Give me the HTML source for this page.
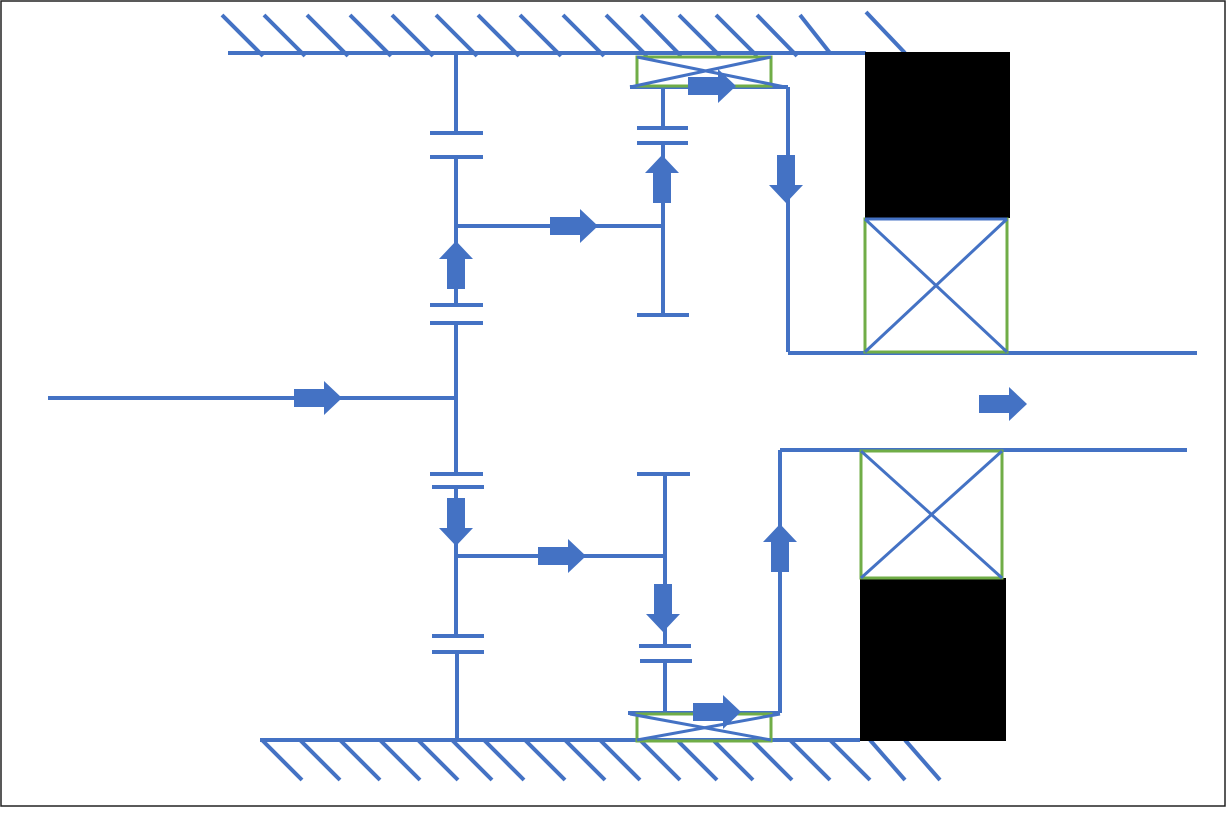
<!DOCTYPE html>
<html><head><style>html,body{margin:0;padding:0;background:#fff}</style></head><body>
<svg width="1227" height="808" viewBox="0 0 1227 808" xmlns="http://www.w3.org/2000/svg">
<defs>
<path id="ar" d="M0,-9 L30,-9 L30,-17 L48,0 L30,17 L30,9 L0,9 Z" fill="#4472C4"/>
</defs>
<rect x="1" y="1" width="1224" height="805" fill="#fff" stroke="#222" stroke-width="1.5"/>
<g stroke="#4472C4" stroke-width="4" fill="none">
<line x1="228" y1="53" x2="866" y2="53"/>
<line x1="222" y1="15" x2="263" y2="56"/><line x1="264" y1="15" x2="305" y2="56"/><line x1="307" y1="15" x2="348" y2="56"/><line x1="350" y1="15" x2="391" y2="56"/><line x1="392" y1="15" x2="433" y2="56"/><line x1="436" y1="15" x2="477" y2="56"/><line x1="478" y1="15" x2="519" y2="56"/><line x1="520" y1="15" x2="561" y2="56"/><line x1="563" y1="15" x2="604" y2="56"/><line x1="606" y1="15" x2="647" y2="56"/><line x1="641" y1="15" x2="681" y2="56"/><line x1="679" y1="15" x2="720" y2="56"/><line x1="716" y1="15" x2="757" y2="56"/><line x1="757" y1="15" x2="797" y2="56"/><line x1="800" y1="15" x2="830" y2="53"/><line x1="866" y1="12" x2="905" y2="53"/>
<line x1="260" y1="740" x2="860" y2="740"/>
<line x1="262" y1="740" x2="302" y2="780"/><line x1="300" y1="740" x2="340" y2="780"/><line x1="340" y1="740" x2="380" y2="780"/><line x1="380" y1="740" x2="420" y2="780"/><line x1="418" y1="740" x2="458" y2="780"/><line x1="452" y1="740" x2="492" y2="780"/><line x1="484" y1="740" x2="524" y2="780"/><line x1="525" y1="740" x2="565" y2="780"/><line x1="565" y1="740" x2="605" y2="780"/><line x1="600" y1="740" x2="640" y2="780"/><line x1="640" y1="740" x2="680" y2="780"/><line x1="677" y1="740" x2="717" y2="780"/><line x1="713" y1="740" x2="753" y2="780"/><line x1="752" y1="740" x2="792" y2="780"/><line x1="790" y1="740" x2="830" y2="780"/><line x1="830" y1="740" x2="870" y2="780"/><line x1="870" y1="740" x2="905" y2="780"/><line x1="905" y1="740" x2="940" y2="780"/>
<line x1="48" y1="398" x2="456" y2="398"/>
<line x1="456" y1="53" x2="456" y2="133"/><line x1="430" y1="133" x2="483" y2="133"/><line x1="430" y1="157" x2="483" y2="157"/>
<line x1="456" y1="157" x2="456" y2="305"/><line x1="430" y1="305" x2="483" y2="305"/><line x1="430" y1="323" x2="483" y2="323"/>
<line x1="456" y1="323" x2="456" y2="474"/><line x1="430" y1="474" x2="483" y2="474"/><line x1="432" y1="487" x2="484" y2="487"/>
<line x1="456" y1="487" x2="456" y2="636"/><line x1="432" y1="636" x2="484" y2="636"/><line x1="432" y1="652" x2="484" y2="652"/>
<line x1="457" y1="652" x2="457" y2="740"/>
<line x1="456" y1="226" x2="663" y2="226"/>
<line x1="663" y1="87" x2="663" y2="128"/><line x1="637" y1="128" x2="688" y2="128"/><line x1="637" y1="143" x2="688" y2="143"/>
<line x1="663" y1="143" x2="663" y2="315"/><line x1="637" y1="315" x2="689" y2="315"/>
<line x1="630" y1="87" x2="788" y2="87"/>
<line x1="788" y1="87" x2="788" y2="352"/>
<line x1="788" y1="353" x2="1197" y2="353"/>
<line x1="456" y1="556" x2="665" y2="556"/>
<line x1="637" y1="474" x2="690" y2="474"/><line x1="665" y1="474" x2="665" y2="646"/>
<line x1="639" y1="646" x2="691" y2="646"/><line x1="640" y1="661" x2="692" y2="661"/>
<line x1="665" y1="661" x2="665" y2="713"/>
<line x1="628" y1="713" x2="780" y2="713"/>
<line x1="780" y1="713" x2="780" y2="450"/>
<line x1="780" y1="450" x2="1187" y2="450"/>
</g>
<rect x="637" y="57" width="134" height="29" fill="none" stroke="#70AD47" stroke-width="3"/>
<g stroke="#4472C4" stroke-width="3"><line x1="630" y1="87" x2="771" y2="57"/><line x1="637" y1="57" x2="785" y2="87"/></g>
<rect x="637" y="714" width="134" height="27" fill="none" stroke="#70AD47" stroke-width="3"/>
<g stroke="#4472C4" stroke-width="3"><line x1="630" y1="714" x2="771" y2="740"/><line x1="637" y1="740" x2="780" y2="714"/></g>
<rect x="865" y="52" width="145" height="166" fill="#000"/>
<rect x="865" y="219" width="142" height="133" fill="none" stroke="#70AD47" stroke-width="3"/>
<g stroke="#4472C4" stroke-width="3"><line x1="865" y1="219" x2="1007" y2="352"/><line x1="1007" y1="219" x2="865" y2="352"/><line x1="865" y1="219" x2="1007" y2="219"/></g>
<rect x="860" y="578" width="146" height="163" fill="#000"/>
<rect x="861" y="451" width="141" height="127" fill="none" stroke="#70AD47" stroke-width="3"/>
<g stroke="#4472C4" stroke-width="3"><line x1="861" y1="451" x2="1002" y2="578"/><line x1="1002" y1="451" x2="861" y2="578"/></g>
<use href="#ar" transform="translate(294,398)"/>
<use href="#ar" transform="translate(550,226)"/>
<use href="#ar" transform="translate(538,556)"/>
<use href="#ar" transform="translate(688,86)"/>
<use href="#ar" transform="translate(693,712)"/>
<use href="#ar" transform="translate(979,404)"/>
<use href="#ar" transform="translate(456,289) rotate(-90)"/>
<use href="#ar" transform="translate(456,498) rotate(90)"/>
<use href="#ar" transform="translate(662,203) rotate(-90)"/>
<use href="#ar" transform="translate(786,155) rotate(90)"/>
<use href="#ar" transform="translate(663,584) rotate(90)"/>
<use href="#ar" transform="translate(780,572) rotate(-90)"/>
</svg>
</body></html>
